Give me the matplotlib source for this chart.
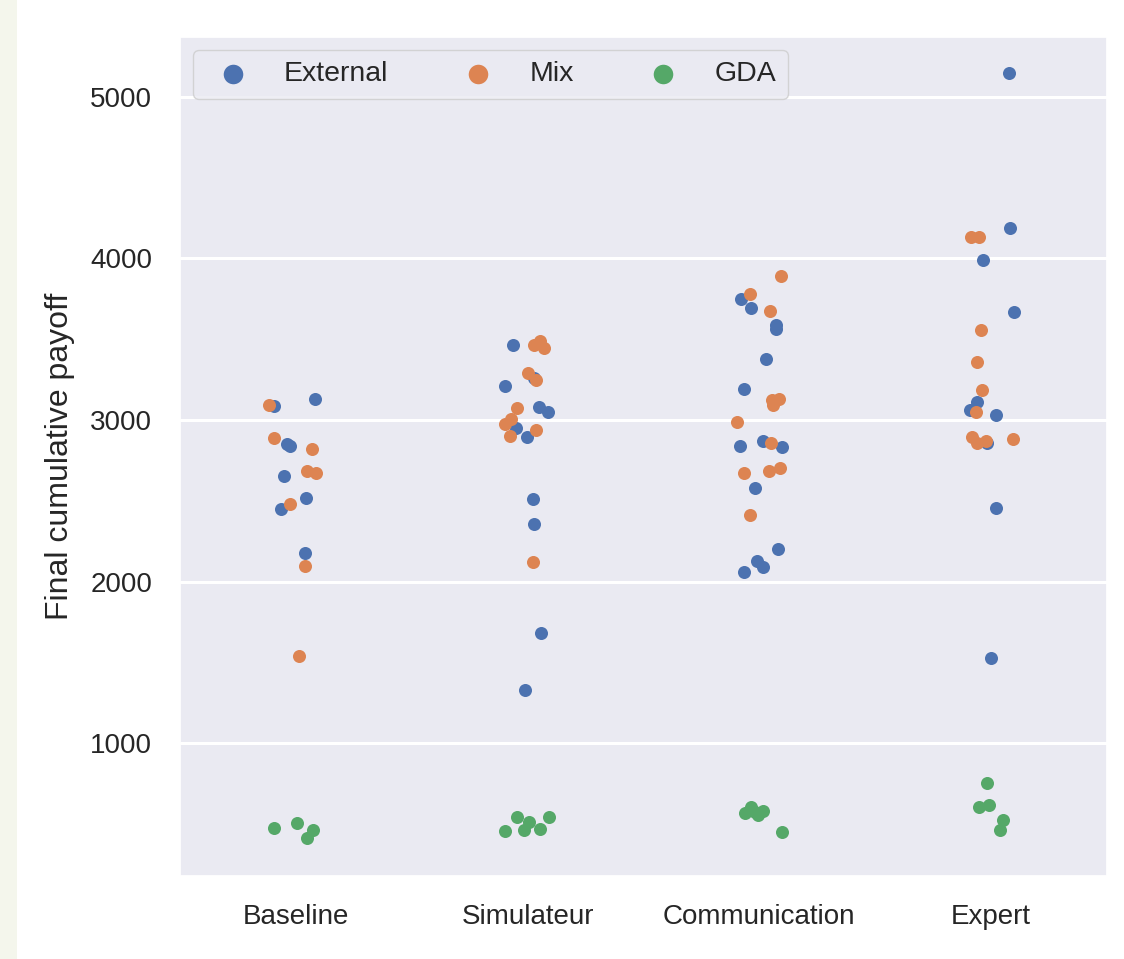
import matplotlib
matplotlib.use("Agg")
import matplotlib.pyplot as plt
import seaborn as sns
from matplotlib.patches import Rectangle

categories = ["Baseline", "Simulateur", "Communication", "Expert"]
groups = ["External", "Mix", "GDA"]

# final payoff per run, one list per condition
external = [
    [3084, 3127, 2852, 2837, 2652, 2516, 2446, 2178],
    [3461, 3259, 3212, 3080, 3051, 2950, 2895, 2512, 2359, 1680, 1328],
    [3749, 3692, 3584, 3562, 3379, 3193, 2837, 2868, 2833, 2578, 2203, 2127, 2090, 2061],
    [5147, 4188, 3990, 3667, 3111, 3064, 3028, 2854, 2458, 1526],
]
external_jitter = [
    [-0.096, 0.084, -0.037, -0.025, -0.053, 0.042, -0.064, 0.041],
    [-0.062, 0.029, -0.099, 0.050, 0.089, -0.050, -0.003, 0.022, 0.028, 0.058, -0.013],
    [-0.081, -0.036, 0.072, 0.073, 0.028, -0.066, -0.084, 0.016, 0.099, -0.019, 0.079, -0.009, 0.014, -0.068],
    [0.076, 0.080, -0.036, 0.100, -0.062, -0.091, 0.020, -0.019, 0.021, 0.000],
]

mix = [
    [3094, 2891, 2818, 2683, 2673, 2477, 2098, 1542],
    [3465, 3486, 3445, 3290, 3245, 3074, 2975, 3008, 2903, 2938, 2120],
    [3891, 3780, 3675, 3125, 3131, 3094, 2985, 2858, 2670, 2681, 2705, 2409],
    [4134, 4130, 3556, 3360, 3185, 3047, 2893, 2858, 2872, 2884],
]
mix_jitter = [
    [-0.115, -0.096, 0.071, 0.048, 0.085, -0.025, 0.038, 0.013],
    [0.029, 0.054, 0.072, 0.003, 0.035, -0.044, -0.098, -0.073, -0.076, 0.036, 0.025],
    [0.093, -0.039, 0.047, 0.053, 0.086, 0.060, -0.095, 0.050, -0.065, 0.043, 0.089, -0.039],
    [-0.088, -0.052, -0.044, -0.061, -0.039, -0.065, -0.081, -0.062, -0.022, 0.093],
]

gda = [
    [474, 508, 465, 412],
    [455, 545, 515, 463, 468, 542],
    [568, 603, 556, 582, 573, 449],
    [752, 603, 618, 527, 463],
]
gda_jitter = [
    [-0.093, 0.005, 0.075, 0.049],
    [-0.098, -0.044, 0.006, -0.016, 0.054, 0.094],
    [-0.062, -0.038, -0.005, 0.014, -0.019, 0.099],
    [-0.016, -0.051, -0.008, 0.053, 0.038],
]

sns.set_theme(style="darkgrid")
plt.rcParams['font.family'] = ['Liberation Sans', 'DejaVu Sans']
colors = sns.color_palette("deep")

fig = plt.figure(figsize=(11.24, 9.59), dpi=100)
fig.patches.append(Rectangle((0, 0), 17 / 1124, 1, transform=fig.transFigure,
                             facecolor="#f4f6ec", edgecolor="none", zorder=-1))
ax = fig.add_axes([180 / 1124, 1 - 876 / 959, 927 / 1124, 839 / 959])

for gi, (vals, jit) in enumerate([(external, external_jitter), (mix, mix_jitter), (gda, gda_jitter)]):
    xs, ys = [], []
    for ci in range(len(categories)):
        xs += [ci + j for j in jit[ci]]
        ys += vals[ci]
    ax.scatter(xs, ys, s=88, color=colors[gi], linewidth=0, label=groups[gi], zorder=3)

ax.set_xlim(-0.5, 3.5)
ax.set_ylim(179, 5368)
ax.set_xticks(range(len(categories)))
ax.set_xticklabels(categories)
ax.set_yticks([1000, 2000, 3000, 4000, 5000])
ax.grid(False, axis="x")
ax.grid(True, axis="y", color="white", linewidth=2.2)
ax.tick_params(axis="both", labelsize=20, colors="#262626")
ax.tick_params(axis="y", pad=14)
ax.tick_params(axis="x", pad=14)
ax.set_ylabel("Final cumulative payoff", fontsize=23, labelpad=11, color="#262626")

ax.legend(loc="upper left", ncol=3, fontsize=20.5, markerscale=1.5,
          columnspacing=2.15, handletextpad=0.8, borderaxespad=0.45)

plt.savefig("out.png", dpi=100)
